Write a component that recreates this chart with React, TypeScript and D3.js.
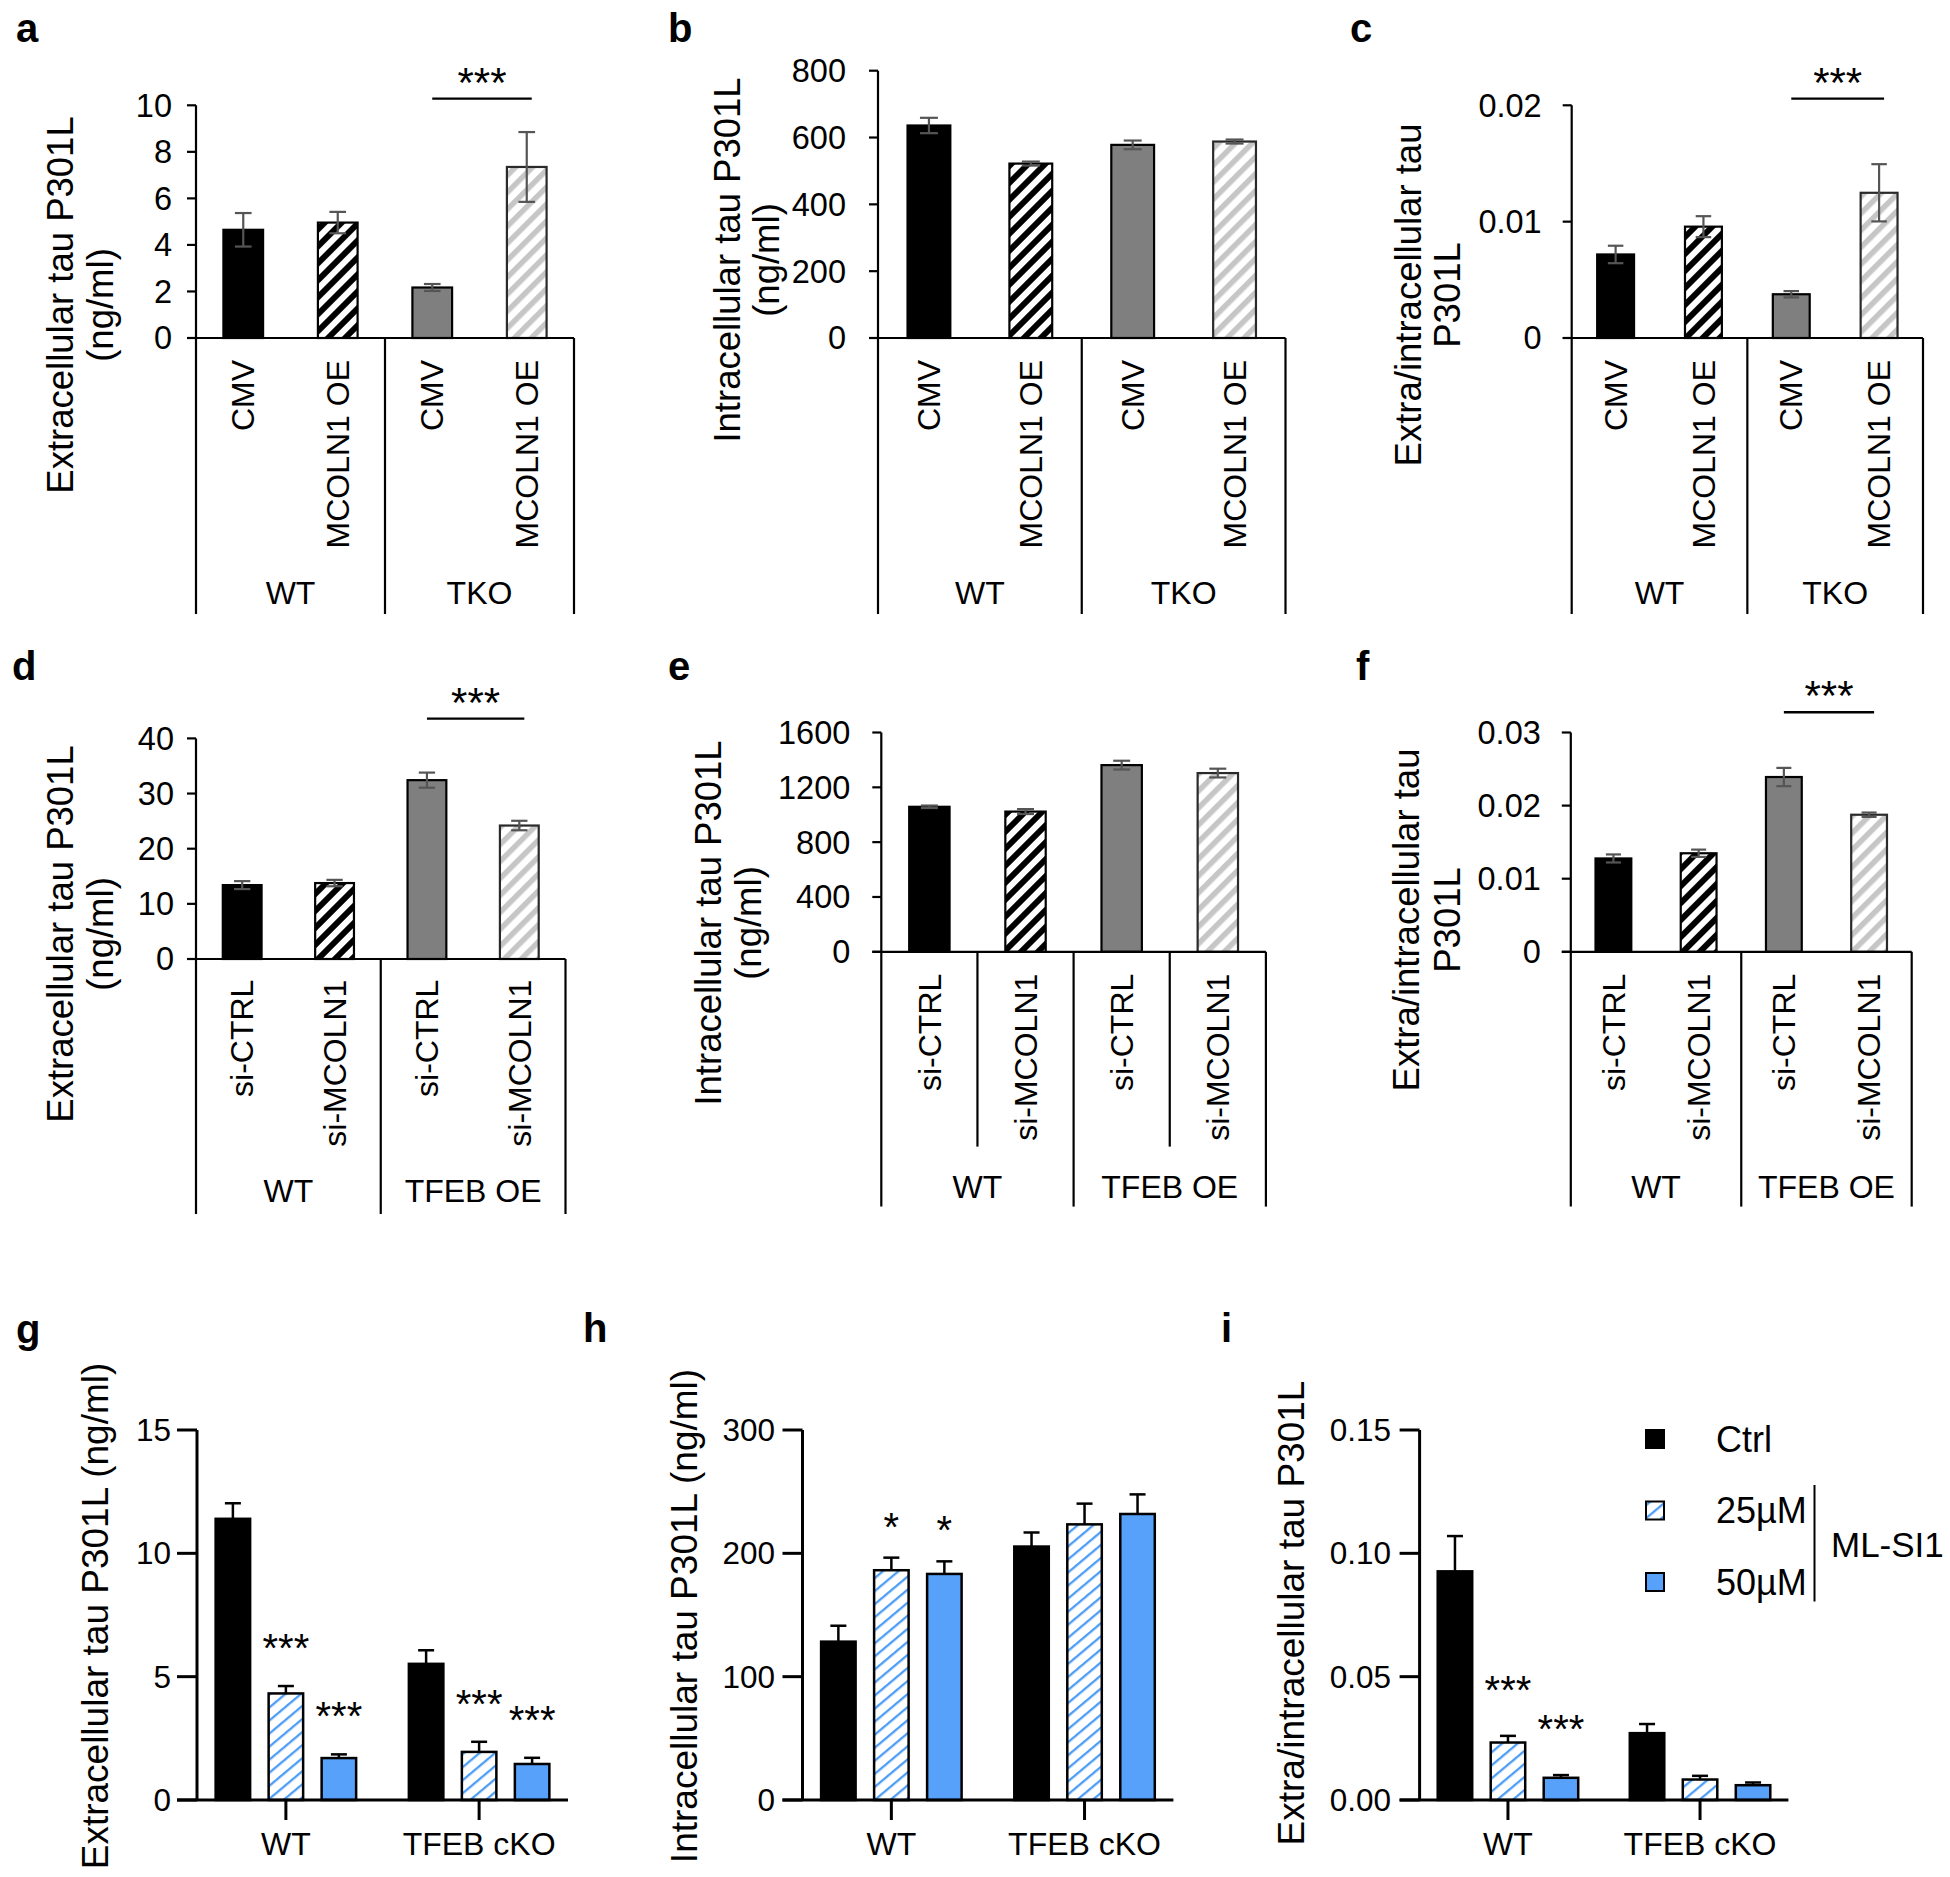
import React from "react";
import * as d3 from "d3";

const FONT = "'Liberation Sans', Arial, Helvetica, sans-serif";

// ---------- Data: panels a–c ----------
const topGroups = ["WT", "TKO"];
const topCategories = ["CMV", "MCOLN1 OE", "CMV", "MCOLN1 OE"];

const aValues = [4.65, 4.96, 2.17, 7.35];
const aErrors = [0.72, 0.46, 0.15, 1.5];
const aTicks = [0, 2, 4, 6, 8, 10];
const aTickLabels = ["0", "2", "4", "6", "8", "10"];

const bValues = [636, 522, 578, 588];
const bErrors = [23, 6, 13, 6];
const bTicks = [0, 200, 400, 600, 800];
const bTickLabels = ["0", "200", "400", "600", "800"];

const cValues = [0.00718, 0.00957, 0.00376, 0.01248];
const cErrors = [0.00075, 0.0009, 0.00027, 0.00246];
const cTicks = [0, 0.01, 0.02];
const cTickLabels = ["0", "0.01", "0.02"];

// ---------- Data: panels d–f ----------
const midGroups = ["WT", "TFEB OE"];
const midCategories = ["si-CTRL", "si-MCOLN1", "si-CTRL", "si-MCOLN1"];

const dValues = [13.4, 13.77, 32.43, 24.2];
const dErrors = [0.72, 0.58, 1.37, 0.86];
const dTicks = [0, 10, 20, 30, 40];
const dTickLabels = ["0", "10", "20", "30", "40"];

const eValues = [1058, 1023, 1362, 1304];
const eErrors = [9, 18, 32, 32];
const eTicks = [0, 400, 800, 1200, 1600];
const eTickLabels = ["0", "400", "800", "1200", "1600"];

const fValues = [0.01277, 0.01348, 0.02391, 0.01875];
const fErrors = [0.00055, 0.0005, 0.00125, 0.0003];
const fTicks = [0, 0.01, 0.02, 0.03];
const fTickLabels = ["0", "0.01", "0.02", "0.03"];

// ---------- Data: panels g–i ----------
const bottomGroups = ["WT", "TFEB cKO"];
const treatments = ["Ctrl", "25µM", "50µM"];

const gValues = [[11.4, 4.32, 1.7], [5.52, 1.95, 1.46]];
const gErrors = [[0.63, 0.3, 0.15], [0.55, 0.41, 0.25]];
const gStars = [["", "***", "***"], ["", "***", "***"]];
const gTicks = [0, 5, 10, 15];
const gTickLabels = ["0", "5", "10", "15"];

const hValues = [[128.4, 186.3, 183.3], [205.5, 223.5, 231.9]];
const hErrors = [[12.9, 10.2, 10.2], [11.4, 16.8, 15.9]];
const hStars = [["", "*", "*"], ["", "", ""]];
const hTicks = [0, 100, 200, 300];
const hTickLabels = ["0", "100", "200", "300"];

const iValues = [[0.0927, 0.0233, 0.009], [0.0271, 0.0083, 0.006]];
const iErrors = [[0.0143, 0.0027, 0.0011], [0.0037, 0.0015, 0.0011]];
const iStars = [["", "***", "***"], ["", "", ""]];
const iTicks = [0, 0.05, 0.1, 0.15];
const iTickLabels = ["0.00", "0.05", "0.10", "0.15"];

const bracketLabel = "ML-SI1";

// ---------- Styles ----------
const excelFills = ["#000000", "url(#stripeBlack)", "#7f7f7f", "url(#stripeGray)"];
const excelStrokes = ["#000000", "#000000", "#000000", "#2a2a2a"];
const prismFills = ["#000000", "url(#hatchBlue)", "#57a1fa"];

type ExcelCfg = {
  letter: string; letterX: number; letterY: number;
  left: number; right: number; top: number; bottom: number;
  boxBottom: number; catTop: number; groupY: number; subBottom?: number;
  titleX: number[]; titleCY: number; gap: number; sigY?: number;
};

type ExcelData = {
  values: number[]; errors: number[]; ticks: number[]; tickLabels: string[];
  cats: string[]; groups: string[]; title: string[]; sig?: string;
};

function ExcelPanel({ cfg, data }: { cfg: ExcelCfg; data: ExcelData }) {
  const yMax = data.ticks[data.ticks.length - 1];
  const y = d3.scaleLinear().domain([0, yMax]).range([cfg.bottom, cfg.top]);
  const idx = data.values.map((_, i) => String(i));
  const x = d3.scaleBand().domain(idx).range([cfg.left, cfg.right]);
  const gx = d3.scaleBand().domain(data.groups).range([cfg.left, cfg.right]);
  const bw = x.bandwidth() * 0.42;
  const cap = bw * 0.42;
  const cx = (i: number) => (x(String(i)) as number) + x.bandwidth() / 2;
  return (
    <g fontFamily={FONT}>
      <text x={cfg.letterX} y={cfg.letterY} fontSize={40} fontWeight="bold">{cfg.letter}</text>
      {data.title.map((t, i) => (
        <text key={i} transform={`translate(${cfg.titleX[i]},${cfg.titleCY}) rotate(-90)`} textAnchor="middle" fontSize={36.5}>{t}</text>
      ))}
      {data.values.map((v, i) => (
        <rect key={i} x={cx(i) - bw / 2} y={y(v)} width={bw} height={cfg.bottom - y(v)}
          fill={excelFills[i]} stroke={excelStrokes[i]} strokeWidth={2.2} />
      ))}
      {data.values.map((v, i) => {
        const e = data.errors[i];
        return (
          <g key={i} stroke="#555555" strokeWidth={2.2}>
            <line x1={cx(i)} x2={cx(i)} y1={y(v - e)} y2={y(v + e)} />
            <line x1={cx(i) - cap / 2} x2={cx(i) + cap / 2} y1={y(v + e)} y2={y(v + e)} />
            <line x1={cx(i) - cap / 2} x2={cx(i) + cap / 2} y1={y(v - e)} y2={y(v - e)} />
          </g>
        );
      })}
      <g stroke="#000" strokeWidth={2.2}>
        <line x1={cfg.left} x2={cfg.left} y1={cfg.top} y2={cfg.boxBottom} />
        <line x1={cfg.left - 9} x2={cfg.right} y1={cfg.bottom} y2={cfg.bottom} />
        {data.ticks.map((t, i) => (
          <line key={i} x1={cfg.left - 9} x2={cfg.left} y1={y(t)} y2={y(t)} />
        ))}
        {data.groups.map((g, i) => {
          const xe = (gx(g) as number) + gx.bandwidth();
          return <line key={i} x1={xe} x2={xe} y1={cfg.bottom} y2={cfg.boxBottom} />;
        })}
        {cfg.subBottom !== undefined && idx.filter((_, i) => i % 2 === 1).map((k) => (
          <line key={k} x1={x(k) as number} x2={x(k) as number} y1={cfg.bottom} y2={cfg.subBottom} />
        ))}
      </g>
      {data.ticks.map((t, i) => (
        <text key={i} x={cfg.left - cfg.gap} y={y(t)} dy="0.35em" textAnchor="end" fontSize={32.5}>{data.tickLabels[i]}</text>
      ))}
      {data.cats.map((c, i) => (
        <text key={i} transform={`translate(${cx(i)},${cfg.catTop}) rotate(-90)`} dy="0.35em" textAnchor="end" fontSize={32}>{c}</text>
      ))}
      {data.groups.map((g, i) => (
        <text key={i} x={(gx(g) as number) + gx.bandwidth() / 2} y={cfg.groupY} textAnchor="middle" fontSize={32}>{g}</text>
      ))}
      {data.sig && cfg.sigY !== undefined && (
        <g>
          <line x1={cx(2)} x2={cx(3) + 5} y1={cfg.sigY} y2={cfg.sigY} stroke="#000" strokeWidth={2.4} />
          <text x={(cx(2) + cx(3) + 5) / 2} y={cfg.sigY - 2} textAnchor="middle" fontSize={42}>{data.sig}</text>
        </g>
      )}
    </g>
  );
}

type PrismCfg = {
  letter: string; letterX: number; letterY: number;
  axisX: number; right: number; top: number; bottom: number;
  titleX: number; titleCY: number; gap: number; starGap: number;
};
type PrismData = {
  values: number[][]; errors: number[][]; stars: string[][];
  ticks: number[]; tickLabels: string[]; title: string;
};

function PrismPanel({ cfg, data }: { cfg: PrismCfg; data: PrismData }) {
  const yMax = data.ticks[data.ticks.length - 1];
  const y = d3.scaleLinear().domain([0, yMax]).range([cfg.bottom, cfg.top]);
  const gx = d3.scalePoint().domain(bottomGroups).range([cfg.axisX, cfg.right]).padding(0.46);
  const sx = d3.scalePoint().domain(treatments).range([-53, 53]);
  const bw = 34.5;
  const cap = 16;
  return (
    <g fontFamily={FONT}>
      <text x={cfg.letterX} y={cfg.letterY} fontSize={40} fontWeight="bold">{cfg.letter}</text>
      <text transform={`translate(${cfg.titleX},${cfg.titleCY}) rotate(-90)`} textAnchor="middle" fontSize={37}>{data.title}</text>
      {bottomGroups.map((g, gi) =>
        treatments.map((s, si) => {
          const v = data.values[gi][si];
          const e = data.errors[gi][si];
          const c = (gx(g) as number) + (sx(s) as number);
          return (
            <g key={`${gi}-${si}`}>
              <g stroke="#000" strokeWidth={2.5}>
                <line x1={c} x2={c} y1={y(v)} y2={y(v + e)} />
                <line x1={c - cap / 2} x2={c + cap / 2} y1={y(v + e)} y2={y(v + e)} />
              </g>
              <rect x={c - bw / 2} y={y(v)} width={bw} height={cfg.bottom - y(v)} fill={prismFills[si]} stroke="#000" strokeWidth={2.5} />
              {data.stars[gi][si] && (
                <text x={c} y={y(v + e) - cfg.starGap} textAnchor="middle" fontSize={40}>{data.stars[gi][si]}</text>
              )}
            </g>
          );
        })
      )}
      <g stroke="#000" strokeWidth={3}>
        <line x1={cfg.axisX} x2={cfg.axisX} y1={cfg.top} y2={cfg.bottom} />
        <line x1={cfg.axisX - 20} x2={cfg.right} y1={cfg.bottom} y2={cfg.bottom} />
        {data.ticks.map((t, i) => (
          <line key={i} x1={cfg.axisX - 20} x2={cfg.axisX} y1={y(t)} y2={y(t)} />
        ))}
        {bottomGroups.map((g, i) => (
          <line key={i} x1={gx(g) as number} x2={gx(g) as number} y1={cfg.bottom} y2={cfg.bottom + 20} />
        ))}
      </g>
      {data.ticks.map((t, i) => (
        <text key={i} x={cfg.axisX - cfg.gap} y={y(t)} dy="0.35em" textAnchor="end" fontSize={31.5}>{data.tickLabels[i]}</text>
      ))}
      {bottomGroups.map((g, i) => (
        <text key={i} x={gx(g) as number} y={cfg.bottom + 55} textAnchor="middle" fontSize={32}>{g}</text>
      ))}
    </g>
  );
}

function Legend() {
  const ys = d3.scalePoint().domain(treatments).range([1439, 1582]);
  return (
    <g fontFamily={FONT}>
      {treatments.map((t, i) => (
        <g key={t}>
          <rect x={1646} y={(ys(t) as number) - 9} width={18} height={18} fill={prismFills[i]} stroke="#000" strokeWidth={2} />
          <text x={1716} y={(ys(t) as number) + 12.5} fontSize={36}>{t}</text>
        </g>
      ))}
      <line x1={1814.5} x2={1814.5} y1={1485} y2={1601.5} stroke="#000" strokeWidth={2} />
      <text x={1831} y={1557} fontSize={35}>{bracketLabel}</text>
    </g>
  );
}

export default function App() {
  return (
    <svg width={1950} height={1877} style={{ position: "absolute", left: 0, top: 0, background: "#fff" }}>
      <defs>
        <pattern id="stripeBlack" patternUnits="userSpaceOnUse" width={12} height={12} patternTransform="rotate(45)">
          <rect width={12} height={12} fill="#fff" />
          <rect width={6} height={12} fill="#000" />
        </pattern>
        <pattern id="stripeGray" patternUnits="userSpaceOnUse" width={12} height={12} patternTransform="rotate(45)">
          <rect width={12} height={12} fill="#fff" />
          <rect width={5.5} height={12} fill="#c6c6c6" />
        </pattern>
        <pattern id="hatchBlue" patternUnits="userSpaceOnUse" width={10} height={10} patternTransform="rotate(50)">
          <rect width={10} height={10} fill="#fff" />
          <rect width={2.3} height={10} fill="#4d9df5" />
        </pattern>
      </defs>
      <rect width={1950} height={1877} fill="#fff" />

      <ExcelPanel
        cfg={{ letter: "a", letterX: 16, letterY: 42, left: 196, right: 574, top: 105.3, bottom: 338, boxBottom: 614, catTop: 360, groupY: 604, titleX: [73, 113], titleCY: 305, gap: 24, sigY: 98.6 }}
        data={{ values: aValues, errors: aErrors, ticks: aTicks, tickLabels: aTickLabels, cats: topCategories, groups: topGroups, title: ["Extracellular tau P301L", "(ng/ml)"], sig: "***" }}
      />
      <ExcelPanel
        cfg={{ letter: "b", letterX: 668, letterY: 42, left: 878, right: 1285.5, top: 70.7, bottom: 338, boxBottom: 614, catTop: 360, groupY: 604, titleX: [740, 779], titleCY: 260, gap: 32 }}
        data={{ values: bValues, errors: bErrors, ticks: bTicks, tickLabels: bTickLabels, cats: topCategories, groups: topGroups, title: ["Intracellular tau P301L", "(ng/ml)"] }}
      />
      <ExcelPanel
        cfg={{ letter: "c", letterX: 1350, letterY: 42, left: 1571.7, right: 1923, top: 105.3, bottom: 338, boxBottom: 614, catTop: 360, groupY: 604, titleX: [1421, 1460], titleCY: 295, gap: 30, sigY: 98.6 }}
        data={{ values: cValues, errors: cErrors, ticks: cTicks, tickLabels: cTickLabels, cats: topCategories, groups: topGroups, title: ["Extra/intracellular tau", "P301L"], sig: "***" }}
      />
      <ExcelPanel
        cfg={{ letter: "d", letterX: 12, letterY: 680, left: 196, right: 565.5, top: 738.4, bottom: 959, boxBottom: 1214, catTop: 979.6, groupY: 1202, titleX: [73, 113], titleCY: 934, gap: 22, sigY: 718.6 }}
        data={{ values: dValues, errors: dErrors, ticks: dTicks, tickLabels: dTickLabels, cats: midCategories, groups: midGroups, title: ["Extracellular tau P301L", "(ng/ml)"], sig: "***" }}
      />
      <ExcelPanel
        cfg={{ letter: "e", letterX: 668, letterY: 680, left: 881.3, right: 1265.9, top: 732.5, bottom: 951.8, boxBottom: 1206.6, catTop: 973.7, groupY: 1198, subBottom: 1146.6, titleX: [721, 761], titleCY: 923, gap: 31 }}
        data={{ values: eValues, errors: eErrors, ticks: eTicks, tickLabels: eTickLabels, cats: midCategories, groups: midGroups, title: ["Intracellular tau P301L", "(ng/ml)"] }}
      />
      <ExcelPanel
        cfg={{ letter: "f", letterX: 1356, letterY: 680, left: 1570.8, right: 1911.7, top: 732.5, bottom: 951.8, boxBottom: 1206.6, catTop: 973.7, groupY: 1198, titleX: [1419, 1460], titleCY: 920, gap: 30, sigY: 712.2 }}
        data={{ values: fValues, errors: fErrors, ticks: fTicks, tickLabels: fTickLabels, cats: midCategories, groups: midGroups, title: ["Extra/intracellular tau", "P301L"], sig: "***" }}
      />

      <PrismPanel
        cfg={{ letter: "g", letterX: 16, letterY: 1343, axisX: 197, right: 568, top: 1430, bottom: 1800, titleX: 108, titleCY: 1616, gap: 26, starGap: 24 }}
        data={{ values: gValues, errors: gErrors, stars: gStars, ticks: gTicks, tickLabels: gTickLabels, title: "Extracellular tau P301L (ng/ml)" }}
      />
      <PrismPanel
        cfg={{ letter: "h", letterX: 583, letterY: 1342, axisX: 802.5, right: 1173.4, top: 1430, bottom: 1800, titleX: 696.5, titleCY: 1616, gap: 27.5, starGap: 17 }}
        data={{ values: hValues, errors: hErrors, stars: hStars, ticks: hTicks, tickLabels: hTickLabels, title: "Intracellular tau P301L (ng/ml)" }}
      />
      <PrismPanel
        cfg={{ letter: "i", letterX: 1221, letterY: 1342, axisX: 1419.6, right: 1788.4, top: 1430, bottom: 1800, titleX: 1303.5, titleCY: 1613, gap: 28.5, starGap: 32 }}
        data={{ values: iValues, errors: iErrors, stars: iStars, ticks: iTicks, tickLabels: iTickLabels, title: "Extra/intracellular tau P301L" }}
      />
      <Legend />
    </svg>
  );
}
